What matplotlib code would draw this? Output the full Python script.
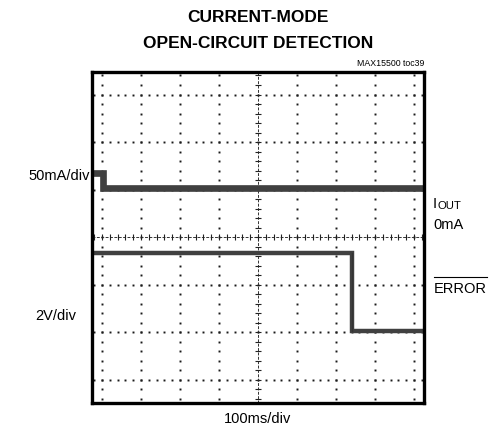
import numpy as np
import matplotlib
matplotlib.use("Agg")
from matplotlib import pyplot as plt
from matplotlib.lines import Line2D

plt.rcParams["font.family"] = ["Liberation Sans", "DejaVu Sans"]

# scope traces, in divisions (x: 100ms/div, y: screen divisions from centre)
iout_x = [-4.3, -3.97, -3.97, 4.3]
iout_y = [1.34, 1.34, 1.03, 1.03]
err_x = [-4.3, 2.41, 2.41, 4.3]
err_y = [-0.34, -0.34, -1.97, -1.97]

W, H = 492, 432
fig = plt.figure(figsize=(W / 100, H / 100), dpi=100)


def fx(x):
    return x / W


def fy(y):
    return 1 - y / H


# frame in pixels
left, right, top, bottom = 92, 424, 72, 403
ax = fig.add_axes([fx(left), fy(bottom), (right - left) / W, (bottom - top) / H])

xdiv, ydiv = 39.0, 47.5
cx, cy = 258, 237
x0 = (left - cx) / xdiv
x1 = (right - cx) / xdiv
y0 = -(bottom - cy) / ydiv
y1 = -(top - cy) / ydiv
ax.set_xlim(x0, x1)
ax.set_ylim(y0, y1)
ax.set_xticks([])
ax.set_yticks([])
for s in ax.spines.values():
    s.set_linewidth(2.4)
    s.set_color("black")

dot = dict(ls="none", marker="s", ms=1.4, color="#1a1a1a", mew=0)
sub_x = np.arange(-21, 22) * 0.2
sub_x = sub_x[(sub_x > x0) & (sub_x < x1)]
sub_y = np.arange(-17, 18) * 0.2
sub_y = sub_y[(sub_y > y0) & (sub_y < y1)]

# dotted graticule
for gy in range(-3, 4):
    if gy == 0:
        continue
    ax.plot(sub_x, np.full(len(sub_x), gy), **dot)
for gx in range(-4, 5):
    if gx == 0:
        continue
    ax.plot(np.full(len(sub_y), gx), sub_y, **dot)

# centre axes with minor ticks
ax.axhline(0, color="#333333", lw=0.7, ls=(0, (3, 1.5)))
ax.axvline(0, color="#333333", lw=0.7, ls=(0, (3, 1.5)))
ax.plot(sub_x, np.zeros(len(sub_x)), ls="none", marker="|", ms=4.5, mew=0.8, color="#222222")
ax.plot(np.zeros(len(sub_y)), sub_y, ls="none", marker="_", ms=4.5, mew=0.8, color="#222222")

# traces
ax.plot(iout_x, iout_y, color="#404040", lw=4.8, solid_joinstyle="miter")
ax.plot(err_x, err_y, color="#404040", lw=3.2, solid_joinstyle="miter")
ax.plot([err_x[1], err_x[2]], [err_y[1], err_y[2]], color="#333333", lw=1.0)

# titles and labels
fig.text(fx(258), fy(18), "CURRENT-MODE", ha="center", va="center",
         fontsize=12.5, fontweight="bold")
fig.text(fx(258), fy(44), "OPEN-CIRCUIT DETECTION", ha="center", va="center",
         fontsize=12.5, fontweight="bold")
fig.text(fx(424), fy(64), "MAX15500 toc39", ha="right", va="center", fontsize=6.3)
fig.text(fx(90), fy(176), "50mA/div", ha="right", va="center", fontsize=10.5)
fig.text(fx(76), fy(316), "2V/div", ha="right", va="center", fontsize=10.5)
fig.text(fx(258), fy(419), "100ms/div", ha="center", va="center", fontsize=10.5)

fig.text(fx(433), fy(208), "I", ha="left", va="baseline", fontsize=10.5)
fig.text(fx(437), fy(209), "OUT", ha="left", va="baseline", fontsize=8.2)
fig.text(fx(433), fy(229), "0mA", ha="left", va="baseline", fontsize=10.5)
t = fig.text(fx(434), fy(293), "ERROR", ha="left", va="baseline", fontsize=10.5)

fig.canvas.draw()
bb = t.get_window_extent(fig.canvas.get_renderer())
fig.add_artist(Line2D([bb.x0 / W, bb.x1 / W], [fy(277), fy(277)],
                      transform=fig.transFigure, color="black", lw=0.8))

fig.savefig("out.png", dpi=100)
